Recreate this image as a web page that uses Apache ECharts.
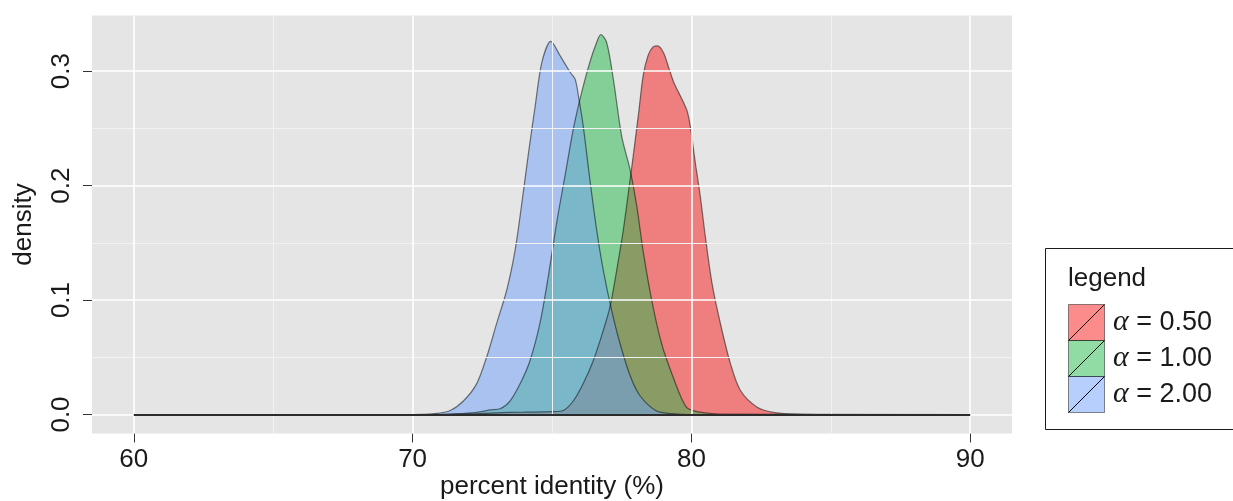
<!DOCTYPE html>
<html><head><meta charset="utf-8">
<script src="https://cdn.jsdelivr.net/npm/echarts@6/dist/echarts.min.js"></script>
<style>html,body{margin:0;padding:0;background:#fff}#c{width:1233px;height:501px}</style>
</head><body><div id="c"></div>
<script>
// ---- data ----
const seriesNames = ['α = 0.50', 'α = 1.00', 'α = 2.00'];

const xRed = [60, 70, 72, 73, 74, 75, 75.4, 75.77, 76.12, 76.48, 76.84, 77.08, 77.32, 77.56, 77.8, 77.93, 78.11, 78.27, 78.45, 78.62, 78.79, 79.0, 79.2, 79.37, 79.55, 79.72, 79.85, 79.96, 80.14, 80.32, 80.5, 80.74, 81.04, 81.4, 81.76, 82.36, 82.95, 83.55, 84.5, 90];
const yRed = [0, 0, 0.0005, 0.0015, 0.002, 0.0025, 0.0035, 0.012, 0.027, 0.047, 0.0735, 0.094, 0.126, 0.1615, 0.205, 0.229, 0.264, 0.296, 0.314, 0.321, 0.322, 0.316, 0.302, 0.290, 0.281, 0.2725, 0.265, 0.252, 0.220, 0.1905, 0.1555, 0.1145, 0.0795, 0.0445, 0.021, 0.0064, 0.0018, 0.0005, 0, 0];

const xGreen = [60, 71, 71.8, 72.3, 72.78, 73.14, 73.5, 73.86, 74.21, 74.57, 74.87, 75.17, 75.47, 75.77, 76.07, 76.36, 76.6, 76.75, 76.96, 77.2, 77.5, 77.8, 78.04, 78.28, 78.6, 78.93, 79.34, 79.82, 80.3, 81, 90];
const yGreen = [0, 0, 0.0008, 0.0018, 0.004, 0.005, 0.012, 0.027, 0.047, 0.080, 0.121, 0.168, 0.209, 0.250, 0.282, 0.308, 0.325, 0.332, 0.325, 0.293, 0.243, 0.214, 0.182, 0.141, 0.097, 0.062, 0.033, 0.0064, 0.002, 0.0004, 0];

const xBlue = [60, 70, 70.8, 71.35, 71.83, 72.3, 72.66, 73.02, 73.38, 73.68, 73.92, 74.16, 74.4, 74.64, 74.96, 75.29, 75.65, 75.83, 75.95, 76.12, 76.36, 76.6, 76.84, 77.14, 77.44, 77.8, 78.15, 78.75, 79.3, 80, 90];
const yBlue = [0, 0, 0.0008, 0.0035, 0.012, 0.027, 0.0505, 0.080, 0.109, 0.144, 0.185, 0.229, 0.270, 0.308, 0.326, 0.3135, 0.299, 0.293, 0.278, 0.252, 0.205, 0.1615, 0.126, 0.091, 0.062, 0.034, 0.0166, 0.003, 0.0008, 0, 0];

const xTicks = [60, 70, 80, 90];
const xMinor = [65, 75, 85];
const yTicks = [0, 0.1, 0.2, 0.3];
const yMinor = [0.05, 0.15, 0.25];
const xRange = [60, 90];   // span of the density baseline

// ---- styles ----
const fills = ['rgba(250,25,25,0.5)', 'rgba(35,185,75,0.5)', 'rgba(110,160,250,0.5)'];
const FONT = '"Liberation Sans", Arial, Helvetica, sans-serif';
const TXT = '#1a1a1a';

function pairs(xs, ys) { return xs.map((x, i) => [x, ys[i]]); }
const allX = [xRed, xGreen, xBlue];
const allY = [yRed, yGreen, yBlue];

const densitySeries = seriesNames.map((n, i) => ({
  type: 'line', name: n, data: pairs(allX[i], allY[i]),
  smooth: 0.3, symbol: 'none', z: 2,
  lineStyle: { color: 'rgba(0,0,0,0.5)', width: 1.2 },
  areaStyle: { color: fills[i], opacity: 1 }
}));

const gridSeries = {
  type: 'line', data: [], silent: true, z: 1,
  markLine: {
    silent: true, symbol: ['none', 'none'], label: { show: false }, animation: false,
    data: [
      ...xMinor.map(v => ({ xAxis: v, lineStyle: { color: '#f2f2f2', width: 1, type: 'solid' } })),
      ...yMinor.map(v => ({ yAxis: v, lineStyle: { color: '#f2f2f2', width: 1, type: 'solid' } })),
      ...xTicks.map(v => ({ xAxis: v, lineStyle: { color: '#ffffff', width: 1.6, type: 'solid' } })),
      ...yTicks.map(v => ({ yAxis: v, lineStyle: { color: '#ffffff', width: 1.6, type: 'solid' } }))
    ]
  }
};

const baseSeries = {
  type: 'line', data: [], silent: true, z: 3,
  markLine: {
    silent: true, symbol: ['none', 'none'], label: { show: false }, animation: false,
    data: [[{ coord: [xRange[0], 0] }, { coord: [xRange[1], 0] }]],
    lineStyle: { color: '#2b2b2b', width: 2, type: 'solid' }
  }
};

// legend drawn as graphic
const legendEls = [
  { type: 'rect', shape: { x: 1045.5, y: 248.5, width: 400, height: 181 }, style: { fill: '#fff', stroke: '#1a1a1a', lineWidth: 1 } },
  { type: 'text', x: 1068, y: 279, style: { text: 'legend', fontSize: 26, fontFamily: FONT, fill: TXT, align: 'left', verticalAlign: 'middle' } }
];
seriesNames.forEach((n, i) => {
  const y0 = 304.5 + 36 * i;
  legendEls.push({ type: 'rect', shape: { x: 1068.5, y: y0, width: 36, height: 36 }, style: { fill: fills[i], stroke: 'rgba(0,0,0,0.45)', lineWidth: 1 } });
  legendEls.push({ type: 'line', shape: { x1: 1068.5, y1: y0 + 36, x2: 1104.5, y2: y0 }, style: { stroke: '#000', lineWidth: 1 } });
  legendEls.push({ type: 'text', x: 1113, y: y0 + 18, style: {
    text: '{a|α}' + n.slice(1), fontSize: 27, fontFamily: FONT, fill: TXT, align: 'left', verticalAlign: 'middle',
    rich: { a: { fontSize: 30, fontStyle: 'italic', fontFamily: '"Liberation Serif", "DejaVu Serif", serif', fill: TXT } }
  } });
});

const chart = echarts.init(document.getElementById('c'), null, { renderer: 'canvas' });
chart.setOption({
  animation: false,
  backgroundColor: '#ffffff',
  grid: { left: 92, right: 221, top: 15.5, bottom: 67.5, show: true, backgroundColor: '#E5E5E5', borderWidth: 0,
    containLabel: false, outerBoundsMode: 'none' },
  xAxis: {
    type: 'value', min: 58.5, max: 91.5,
    axisLine: { show: false, onZero: false },
    axisTick: { show: true, customValues: xTicks, length: 9, lineStyle: { color: '#333', width: 1 } },
    axisLabel: { customValues: xTicks, fontSize: 26, fontFamily: FONT, color: TXT, margin: 13.5 },
    splitLine: { show: false },
    name: 'percent identity (%)', nameLocation: 'middle', nameGap: 40, nameMoveOverlap: false,
    nameTextStyle: { fontSize: 26, fontFamily: FONT, color: TXT }
  },
  yAxis: {
    type: 'value', min: -0.0166, max: 0.3486,
    axisLine: { show: false, onZero: false },
    axisTick: { show: true, customValues: yTicks, length: 9, lineStyle: { color: '#333', width: 1 } },
    axisLabel: { customValues: yTicks, fontSize: 26, fontFamily: FONT, color: TXT, margin: 17, rotate: 90,
      formatter: v => Number(v).toFixed(1) },
    splitLine: { show: false },
    name: 'density', nameLocation: 'middle', nameGap: 55, nameRotate: 90, nameMoveOverlap: false,
    nameTextStyle: { fontSize: 26, fontFamily: FONT, color: TXT }
  },
  series: [gridSeries, ...densitySeries, baseSeries],
  graphic: legendEls
});
</script>
</body></html>
